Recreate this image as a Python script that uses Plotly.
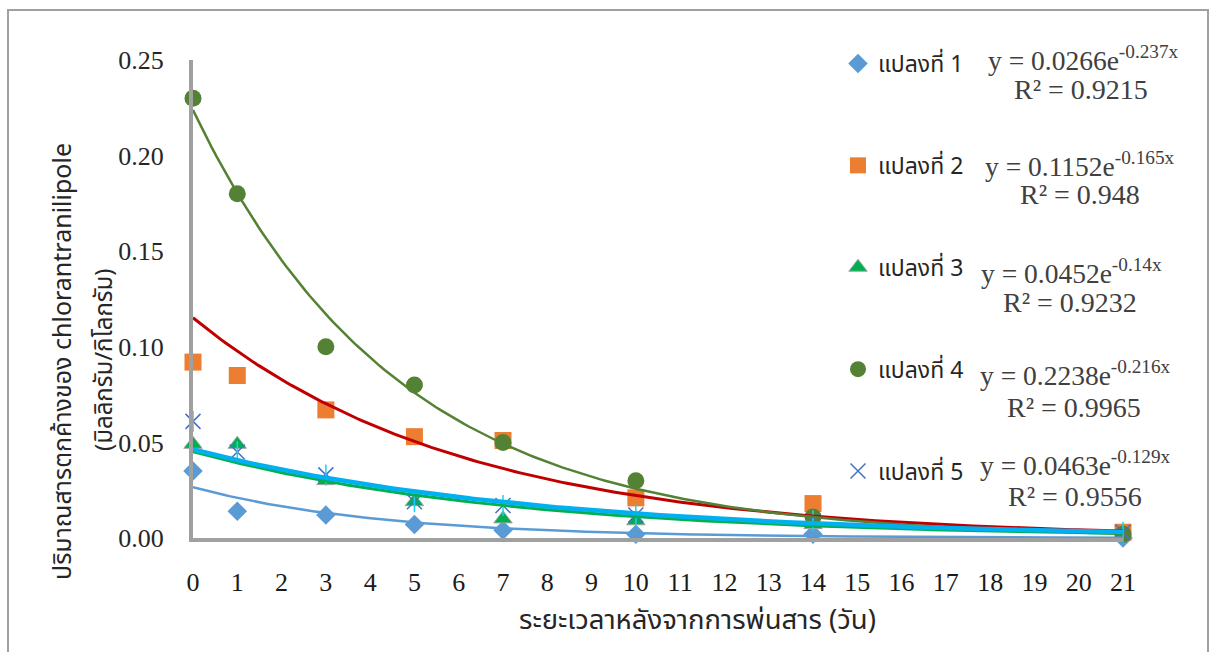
import numpy as np
import plotly.graph_objects as go

# Days after spraying
days = [0, 1, 3, 5, 7, 10, 14, 21]

# Residue (mg/kg) of chlorantraniliprole per plot
plot1 = [0.035, 0.014, 0.012, 0.007, 0.004, 0.002, 0.002, 0.000]
plot2 = [0.092, 0.085, 0.067, 0.053, 0.051, 0.021, 0.018, 0.003]
plot3 = [0.049, 0.049, 0.030, 0.019, 0.010, 0.009, 0.007, 0.002]
plot4 = [0.230, 0.180, 0.100, 0.080, 0.050, 0.030, 0.011, 0.002]
plot5 = [0.061, 0.045, 0.033, 0.019, 0.017, 0.012, 0.009, 0.003]

names = ["แปลงที่ 1", "แปลงที่ 2", "แปลงที่ 3", "แปลงที่ 4", "แปลงที่ 5"]

# Exponential trendline fits y = a * e^(b x)
fit_a = [0.0266, 0.1152, 0.0452, 0.2238, 0.0463]
fit_b = [-0.237, -0.165, -0.14, -0.216, -0.129]
fit_r2 = ["0.9215", "0.948", "0.9232", "0.9965", "0.9556"]

x_ticks = list(range(0, 22))

# ---- layout geometry (pixels) ----
W, H = 1211, 652
L, R, T, B = 193, 88, 60, 114
PW, PH = W - L - R, H - T - B


def px(x):
    return (x - L) / PW


def py(y):
    return (H - B - y) / PH


series = [plot1, plot2, plot3, plot4, plot5]
marker_styles = [
    dict(symbol="diamond", size=15, color="#5B9BD5", line=dict(width=0)),
    dict(symbol="square", size=17, color="#ED7D31", line=dict(width=0)),
    dict(symbol="triangle-up", size=16, color="#00B050", line=dict(width=1, color="#A5A5A5")),
    dict(symbol="circle", size=17, color="#548235", line=dict(width=0)),
    dict(symbol="x-thin-open", size=15, color="#4472C4", line=dict(width=1.5, color="#4472C4")),
]
trend_styles = [
    dict(color="#5B9BD5", width=2.5),
    dict(color="#C00000", width=3),
    dict(color="#00B050", width=3),
    dict(color="#548235", width=2.5),
    dict(color="#00B0F0", width=4.5),
]

fig = go.Figure()

# data markers
for i, (vals, name, ms) in enumerate(zip(series, names, marker_styles)):
    fig.add_trace(go.Scatter(
        x=days, y=vals, mode="markers", name=name, marker=ms,
        legendgroup=f"g{i}", cliponaxis=False,
    ))
    if i == 4:
        # vertical stroke completing the star marker
        fig.add_trace(go.Scatter(
            x=days, y=vals, mode="markers", showlegend=False,
            legendgroup=f"g{i}", cliponaxis=False,
            marker=dict(symbol="line-ns-open", size=15,
                        line=dict(width=1.5, color="#4472C4")),
        ))

# exponential trendlines
xs = np.linspace(0, 21, 200)
for i, (a, b, ls) in enumerate(zip(fit_a, fit_b, trend_styles)):
    fig.add_trace(go.Scatter(
        x=xs, y=a * np.exp(b * xs), mode="lines", line=ls,
        showlegend=False, hoverinfo="skip", legendgroup=f"g{i}",
    ))

serif = "Liberation Serif, Times New Roman, serif"
thai = "Tahoma, Noto Sans Thai, Loma, Garuda, DejaVu Sans, sans-serif"

# trendline equations
eq_pos = [
    ((1083, 58), (1081, 89)),
    ((1080, 164), (1080, 194)),
    ((1071, 271), (1070, 302)),
    ((1075, 373), (1074, 407)),
    ((1075, 463), (1075, 496)),
]
annotations = []
for a, b, r2, (p1, p2) in zip(fit_a, fit_b, fit_r2, eq_pos):
    annotations.append(dict(
        x=px(p1[0]), y=py(p1[1]), xref="paper", yref="paper",
        text=f"y = {a}e<sup>{b}x</sup>", showarrow=False,
        xanchor="center", yanchor="middle",
        font=dict(family=serif, size=27.5, color="#404040"),
    ))
    annotations.append(dict(
        x=px(p2[0]), y=py(p2[1]), xref="paper", yref="paper",
        text=f"R² = {r2}", showarrow=False,
        xanchor="center", yanchor="middle",
        font=dict(family=serif, size=28, color="#404040"),
    ))

# axis titles
annotations += [
    dict(x=px(63), y=py(362), xref="paper", yref="paper", textangle=-90,
         text="ปริมาณสารตกค้างของ chlorantranilipole", showarrow=False,
         xanchor="center", yanchor="middle",
         font=dict(family=thai, size=25, color="#262626")),
    dict(x=px(105), y=py(360), xref="paper", yref="paper", textangle=-90,
         text="(มิลลิกรัม/กิโลกรัม)", showarrow=False,
         xanchor="center", yanchor="middle",
         font=dict(family=thai, size=24, color="#262626")),
    dict(x=px(697), y=py(620), xref="paper", yref="paper",
         text="ระยะเวลาหลังจากการพ่นสาร (วัน)", showarrow=False,
         xanchor="center", yanchor="middle",
         font=dict(family=thai, size=27.5, color="#262626")),
]

fig.update_layout(
    width=W, height=H,
    margin=dict(l=L, r=R, t=T, b=B, autoexpand=False),
    paper_bgcolor="white", plot_bgcolor="white",
    showlegend=True,
    legend=dict(
        x=px(838), y=py(42), xanchor="left", yanchor="top",
        bgcolor="rgba(0,0,0,0)", tracegroupgap=69,
        font=dict(family=thai, size=23, color="#262626"),
        itemwidth=30, maxheight=1.0,
    ),
    xaxis=dict(
        range=[0, 21], tickmode="array", tickvals=x_ticks,
        ticktext=[str(v) for v in x_ticks],
        showgrid=False, zeroline=False, showline=True,
        linecolor="#A0A0A0", linewidth=4, ticks="",
        tickfont=dict(family=serif, size=26, color="#1a1a1a"),
        ticklabelstandoff=18,
    ),
    yaxis=dict(
        range=[0, 0.25], tickvals=[0, 0.05, 0.10, 0.15, 0.20, 0.25],
        tickformat=".2f",
        showgrid=False, zeroline=False, showline=True,
        linecolor="#A0A0A0", linewidth=4, ticks="",
        tickfont=dict(family=serif, size=26, color="#262626"),
        ticklabelstandoff=20,
    ),
    annotations=annotations,
    shapes=[dict(
        type="rect", xref="paper", yref="paper",
        x0=px(8), x1=px(1208), y0=py(700), y1=py(10),
        line=dict(color="#A0A0A0", width=2), fillcolor="rgba(0,0,0,0)",
        layer="below",
    )],
)

fig.write_html("out.html")
